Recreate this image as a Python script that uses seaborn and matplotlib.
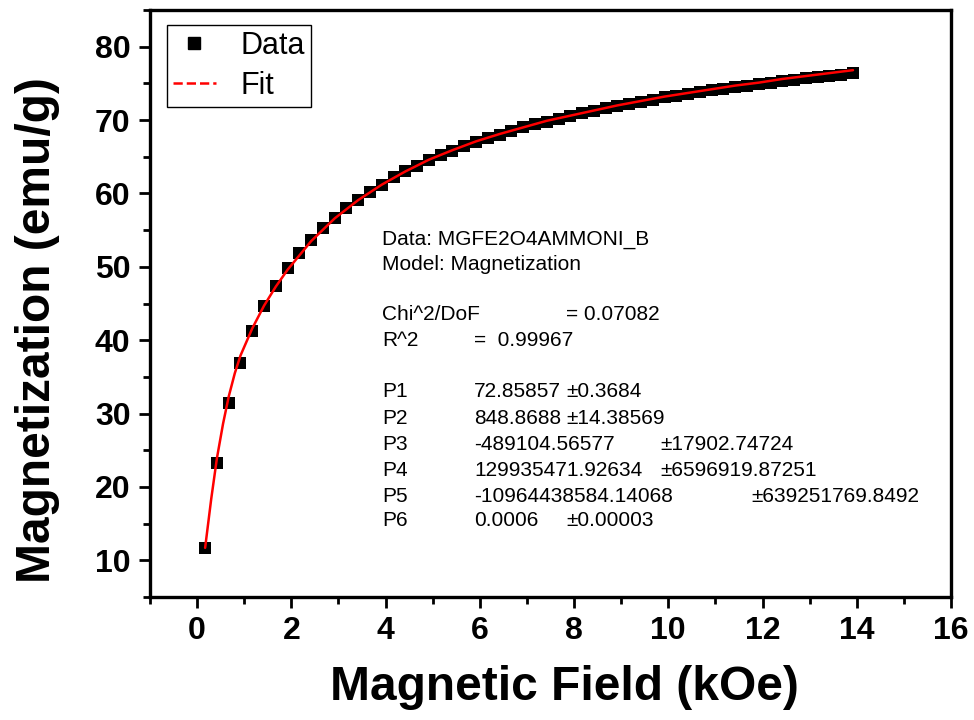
import matplotlib
matplotlib.use("Agg")
import matplotlib.pyplot as plt
from matplotlib.lines import Line2D
from matplotlib.ticker import MultipleLocator
import seaborn as sns
import pandas as pd

# Measured magnetization curve (field in kOe, magnetization in emu/g)
field = [0.17, 0.42, 0.67, 0.92, 1.17, 1.42, 1.67, 1.92, 2.17, 2.42,
         2.67, 2.92, 3.17, 3.42, 3.67, 3.92, 4.17, 4.42, 4.67, 4.92,
         5.17, 5.42, 5.67, 5.92, 6.17, 6.42, 6.67, 6.92, 7.17, 7.42,
         7.67, 7.92, 8.17, 8.42, 8.67, 8.92, 9.17, 9.42, 9.67, 9.92,
         10.17, 10.42, 10.67, 10.92, 11.17, 11.42, 11.67, 11.92, 12.17, 12.42,
         12.67, 12.92, 13.17, 13.42, 13.67, 13.92]
magnetization = [11.7, 23.3, 31.4, 36.9, 41.3, 44.7, 47.4, 49.8, 51.9, 53.6,
                 55.3, 56.6, 58.0, 59.1, 60.2, 61.2, 62.2, 63.0, 63.8, 64.5,
                 65.2, 65.8, 66.4, 67.0, 67.5, 68.0, 68.5, 69.0, 69.4, 69.8,
                 70.2, 70.6, 70.9, 71.3, 71.6, 71.9, 72.2, 72.5, 72.8, 73.1,
                 73.3, 73.6, 73.8, 74.1, 74.3, 74.5, 74.7, 74.9, 75.1, 75.3,
                 75.5, 75.7, 75.9, 76.0, 76.2, 76.4]

# Fitted model curve
fit_field = [0.17, 0.30, 0.42, 0.55, 0.67, 0.80, 0.92, 1.17, 1.42, 1.67,
             1.92, 2.42, 2.92, 3.42, 3.92, 4.42, 4.92, 5.42, 5.92, 6.42,
             6.92, 7.42, 7.92, 8.42, 8.92, 9.42, 9.92, 10.42, 10.92, 11.42,
             11.92, 12.42, 12.92, 13.42, 13.92]
fit_magnetization = [11.7, 18.4, 23.9, 28.6, 32.3, 35.5, 37.9, 41.6, 44.7, 47.3,
                     49.6, 53.5, 56.6, 59.1, 61.2, 63.0, 64.6, 65.9, 67.1, 68.1,
                     69.0, 69.9, 70.6, 71.3, 72.0, 72.6, 73.2, 73.7, 74.2, 74.7,
                     75.1, 75.6, 76.0, 76.4, 76.8]

x_ticks = [0, 2, 4, 6, 8, 10, 12, 14, 16]
y_ticks = [10, 20, 30, 40, 50, 60, 70, 80]

info_lines = [
    ("Data: MGFE2O4AMMONI_B", None, None),
    ("Model: Magnetization", None, None),
    ("Chi^2/DoF", "= 0.07082", None),
    ("R^2", "=  0.99967", None),
    ("P1", "72.85857", "\u00b10.3684"),
    ("P2", "848.8688", "\u00b114.38569"),
    ("P3", "-489104.56577", "\u00b117902.74724"),
    ("P4", "129935471.92634", "\u00b16596919.87251"),
    ("P5", "-10964438584.14068", "\u00b1639251769.8492"),
    ("P6", "0.0006", "\u00b10.00003"),
]

sns.set_style("ticks")
plt.rcParams["font.family"] = ["Liberation Sans", "DejaVu Sans"]
for key in ["text.color", "axes.labelcolor", "xtick.color", "ytick.color",
            "axes.edgecolor"]:
    plt.rcParams[key] = "black"

W, H = 974, 720
fig = plt.figure(figsize=(W / 100, H / 100), dpi=100)
ax = fig.add_axes([150 / W, 1 - 597 / H, (951 - 150) / W, (597 - 10) / H])

data = pd.DataFrame({"field": field, "magnetization": magnetization})
fit = pd.DataFrame({"field": fit_field, "magnetization": fit_magnetization})

sns.scatterplot(data=data, x="field", y="magnetization", marker="s", s=75,
                color="black", edgecolor="black", linewidth=0, ax=ax, zorder=2)
sns.lineplot(data=fit, x="field", y="magnetization", color="#ff0000",
             linewidth=1.8, ax=ax, zorder=3, sort=False)

ax.set_xlim(-1, 16)
ax.set_ylim(5, 85)
ax.set_xticks(x_ticks)
ax.set_yticks(y_ticks)
ax.xaxis.set_minor_locator(MultipleLocator(1))
ax.yaxis.set_minor_locator(MultipleLocator(5))

for side in ["left", "right", "top", "bottom"]:
    ax.spines[side].set_linewidth(2.4)
    ax.spines[side].set_color("black")

ax.tick_params(axis="both", which="major", direction="out", length=8, width=2,
               labelsize=23, pad=6, colors="black")
ax.tick_params(axis="both", which="minor", direction="out", length=5, width=2,
               colors="black")
for lbl in ax.get_xticklabels() + ax.get_yticklabels():
    lbl.set_fontweight("bold")

ax.set_xlabel("Magnetic Field (kOe)", fontsize=34.5, fontweight="bold")
ax.set_ylabel("Magnetization (emu/g)", fontsize=34.5, fontweight="bold")
ax.xaxis.set_label_coords(0.518, -0.155)
ax.yaxis.set_label_coords(-0.140, 0.455)
ax.xaxis.label.set_va("center")
ax.yaxis.label.set_va("center")

handles = [
    Line2D([], [], marker="s", linestyle="none", color="black", markersize=8),
    Line2D([], [], color="#ff0000", linestyle="--", linewidth=1.8),
]
leg = ax.legend(handles, ["Data", "Fit"], loc="upper left",
                bbox_to_anchor=(0.021, 0.975), fontsize=22, fancybox=False,
                framealpha=1, edgecolor="black", handlelength=1.4,
                handletextpad=0.8, borderpad=0.2, labelspacing=0.33,
                borderaxespad=0)
leg.get_frame().set_linewidth(1.0)

# fit statistics block
rows_y = [240, 265, 315, 341, 392, 418, 444, 470, 496, 521]
col2 = {"Chi^2/DoF": 566, "R^2": 474}
col3 = {"P3": 660, "P4": 660, "P5": 751}
fs = 15
for (name, val, err), py in zip(info_lines, rows_y):
    fig.text(382 / W, 1 - py / H, name, fontsize=fs, va="center", ha="left")
    if val is not None:
        vx = col2.get(name, 474)
        fig.text(vx / W, 1 - py / H, val, fontsize=fs, va="center", ha="left")
    if err is not None:
        ex = col3.get(name, 566)
        fig.text(ex / W, 1 - py / H, err, fontsize=fs, va="center", ha="left")

fig.savefig("out.png", dpi=100, facecolor="white")
